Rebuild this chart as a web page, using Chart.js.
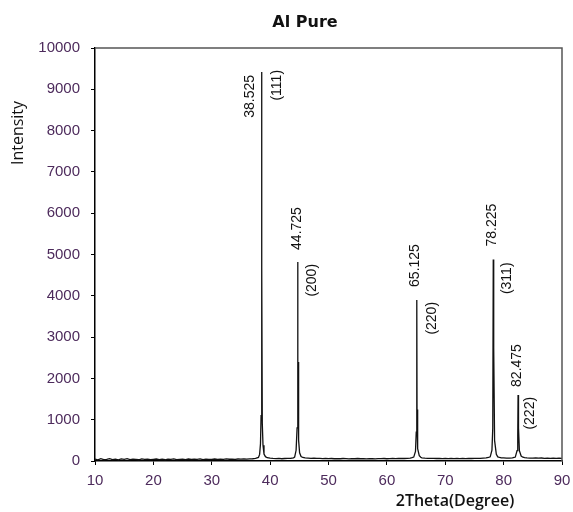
<!DOCTYPE html>
<html>
<head>
<meta charset="utf-8">
<script src="https://cdn.jsdelivr.net/npm/chart.js@4/dist/chart.umd.min.js"></script>
<style>
html,body{margin:0;padding:0;background:#fff;}
#wrap{width:573px;height:512px;position:relative;}
</style>
</head>
<body>
<div id="wrap"><canvas id="c"></canvas></div>
<script>
// ---- data ----
const chartTitle = 'Al Pure';
const xAxisTitle = '2Theta(Degree)';
const yAxisTitle = 'Intensity';
const xTicks = [10, 20, 30, 40, 50, 60, 70, 80, 90];
const yTicks = [0, 1000, 2000, 3000, 4000, 5000, 6000, 7000, 8000, 9000, 10000];

const twoTheta = [
  10, 10.5, 11, 11.5, 12, 12.5, 13, 13.5, 14, 14.5, 15, 15.5, 16, 16.5, 17, 17.5, 18, 18.5, 19, 19.5,
  20, 20.5, 21, 21.5, 22, 22.5, 23, 23.5, 24, 24.5, 25, 25.5, 26, 26.5, 27, 27.5, 28, 28.5, 29, 29.5,
  30, 30.5, 31, 31.5, 32, 32.5, 33, 33.5, 34, 34.5, 35, 35.5, 36, 36.5, 37, 37.5,
  38.0, 38.2, 38.35, 38.45, 38.525, 38.56, 38.6, 38.66, 38.78, 38.95, 39.2, 39.5,
  40, 40.5, 41, 41.5, 42, 42.5, 43, 43.5, 44,
  44.2, 44.45, 44.62, 44.725, 44.76, 44.8, 44.88, 45.05, 45.3, 45.6,
  46, 46.5, 47, 47.5, 48, 48.5, 49, 49.5, 50, 50.5, 51, 51.5, 52, 52.5, 53, 53.5, 54, 54.5, 55, 55.5,
  56, 56.5, 57, 57.5, 58, 58.5, 59, 59.5, 60, 60.5, 61, 61.5, 62, 62.5, 63, 63.5, 64,
  64.3, 64.6, 64.9, 65.03, 65.125, 65.17, 65.22, 65.32, 65.55, 65.8,
  66, 66.5, 67, 67.5, 68, 68.5, 69, 69.5, 70, 70.5, 71, 71.5, 72, 72.5, 73, 73.5, 74, 74.5, 75, 75.5,
  76, 76.5, 77, 77.4,
  77.7, 78.0, 78.14, 78.225, 78.27, 78.33, 78.45, 78.75, 79.0, 79.3,
  79.6, 80, 80.5, 81, 81.5, 81.8,
  82.0, 82.3, 82.42, 82.475, 82.52, 82.58, 82.7, 83.0, 83.3,
  83.6, 84, 84.5, 85, 85.5, 86, 86.5, 87, 87.5, 88, 88.5, 89, 89.5, 90
];
const intensity = [
  45, 30, 55, 35, 40, 58, 35, 45, 30, 50, 40, 55, 35, 45, 40, 30, 50, 38, 45, 32,
  40, 48, 35, 42, 30, 45, 38, 50, 35, 40, 45, 33, 48, 36, 42, 38, 50, 35, 44, 40,
  36, 48, 40, 45, 38, 50, 42, 46, 40, 48, 44, 50, 46, 52, 55, 62,
  85, 160, 420, 1100, 9420, 3000, 4700, 900, 380, 170, 105, 80,
  68, 62, 58, 63, 55, 60, 62, 66, 78,
  95, 260, 800, 4820, 1600, 2400, 500, 200, 110, 85,
  75, 70, 66, 70, 62, 64, 58, 62, 56, 60, 55, 58, 54, 60, 56, 52, 58, 55, 60, 54,
  57, 52, 58, 55, 53, 59, 56, 60, 55, 58, 62, 57, 60, 63, 61, 66, 72,
  80, 95, 230, 700, 3900, 1000, 1250, 300, 130, 90,
  78, 70, 66, 62, 64, 60, 62, 58, 60, 57, 62, 58, 60, 56, 62, 59, 63, 60, 65, 62,
  66, 70, 75, 85,
  100, 260, 800, 4880, 1800, 2750, 500, 160, 100, 85,
  78, 74, 70, 72, 75, 85,
  95, 250, 600, 1600, 700, 800, 250, 120, 92,
  82, 76, 72, 70, 74, 68, 72, 66, 70, 65, 68, 64, 67, 63
];

const peakAngles = [38.525, 44.725, 65.125, 78.225, 82.475];
const peakHeights = [9420, 4820, 3900, 4880, 1600];
const peakAngleLabels = ['38.525', '44.725', '65.125', '78.225', '82.475'];
const peakHklLabels = ['(111)', '(200)', '(220)', '(311)', '(222)'];

// ---- drawing ----
const points = twoTheta.map((x, i) => ({ x: x, y: intensity[i] }));

const tickColor = '#4d2b5c';
const tickFont = { family: 'Liberation Sans', size: 15 };
const labelFont = '14px "Liberation Sans", Arial, sans-serif';

// label placement (pixel offsets relative to peak top)
const labelLayout = [
  { adx: -11.5, ady: 3,   aTop: true,  hdx: 15.5, hdy: -2 },
  { adx: -1,    ady: -12, aTop: false, hdx: 14,   hdy: 2 },
  { adx: -1.5,  ady: -13, aTop: false, hdx: 15,   hdy: 2 },
  { adx: -1,    ady: -13, aTop: false, hdx: 13.5, hdy: 3 },
  { adx: -1,    ady: -8,  aTop: false, hdx: 12,   hdy: 2 }
];

const decor = {
  id: 'decor',
  afterDraw(chart) {
    const ctx = chart.ctx;
    const a = chart.chartArea;
    const xs = chart.scales.x, ys = chart.scales.y;
    ctx.save();
    // top and right frame
    ctx.strokeStyle = '#555';
    ctx.lineWidth = 1.5;
    ctx.beginPath();
    ctx.moveTo(a.left, a.top);
    ctx.lineTo(a.right, a.top);
    ctx.lineTo(a.right, a.bottom);
    ctx.stroke();

    // title
    ctx.fillStyle = '#111';
    ctx.font = 'bold 16px "DejaVu Sans", sans-serif';
    ctx.textAlign = 'center';
    ctx.textBaseline = 'middle';
    ctx.fillText(chartTitle, 305, 23);

    // x axis title
    ctx.font = '600 16px "Open Sans", sans-serif';
    ctx.fillText(xAxisTitle, 455, 501);

    // y axis title
    ctx.save();
    ctx.translate(18, 133);
    ctx.rotate(-Math.PI / 2);
    ctx.font = '16px "Open Sans", sans-serif';
    ctx.fillText(yAxisTitle, 0, 0);
    ctx.restore();

    // peak labels
    ctx.font = labelFont;
    ctx.fillStyle = '#111';
    ctx.textBaseline = 'middle';
    peakAngles.forEach((ang, i) => {
      const px = xs.getPixelForValue(ang);
      const py = ys.getPixelForValue(peakHeights[i]);
      const L = labelLayout[i];
      ctx.save();
      ctx.translate(px + L.adx, py + L.ady);
      ctx.rotate(-Math.PI / 2);
      ctx.textAlign = L.aTop ? 'right' : 'left';
      ctx.fillText(peakAngleLabels[i], 0, 0);
      ctx.restore();
      ctx.save();
      ctx.translate(px + L.hdx, py + L.hdy);
      ctx.rotate(-Math.PI / 2);
      ctx.textAlign = 'right';
      ctx.fillText(peakHklLabels[i], 0, 0);
      ctx.restore();
    });
    ctx.restore();
  }
};

new Chart(document.getElementById('c'), {
  type: 'line',
  data: {
    datasets: [{
      data: points,
      borderColor: '#111',
      borderWidth: 1.3,
      pointRadius: 0,
      tension: 0,
      fill: false
    }]
  },
  options: {
    responsive: true,
    maintainAspectRatio: false,
    animation: false,
    layout: { padding: { left: 0, top: 48, right: 11, bottom: 0 } },
    plugins: { legend: { display: false }, title: { display: false }, tooltip: { enabled: false } },
    scales: {
      x: {
        type: 'linear',
        min: 10, max: 90,
        afterFit(s) { s.height = 51; s.paddingLeft = 0; s.paddingRight = 0; },
        afterBuildTicks(s) { s.ticks = xTicks.map(v => ({ value: v })); },
        border: { display: true, color: '#000', width: 1.5 },
        grid: { display: true, drawOnChartArea: false, drawTicks: true, tickLength: 4, color: '#000' },
        ticks: { color: tickColor, font: tickFont, padding: 7, maxRotation: 0, callback: v => String(v) }
      },
      y: {
        type: 'linear',
        min: 0, max: 10000,
        afterFit(s) { s.width = 95; s.paddingTop = 0; s.paddingBottom = 0; },
        afterBuildTicks(s) { s.ticks = yTicks.map(v => ({ value: v })); },
        border: { display: true, color: '#000', width: 1.5 },
        grid: { display: true, drawOnChartArea: false, drawTicks: true, tickLength: 4, color: '#000' },
        ticks: { color: tickColor, font: tickFont, padding: 11, callback: v => String(v) }
      }
    }
  },
  plugins: [decor]
});
</script>
</body>
</html>
